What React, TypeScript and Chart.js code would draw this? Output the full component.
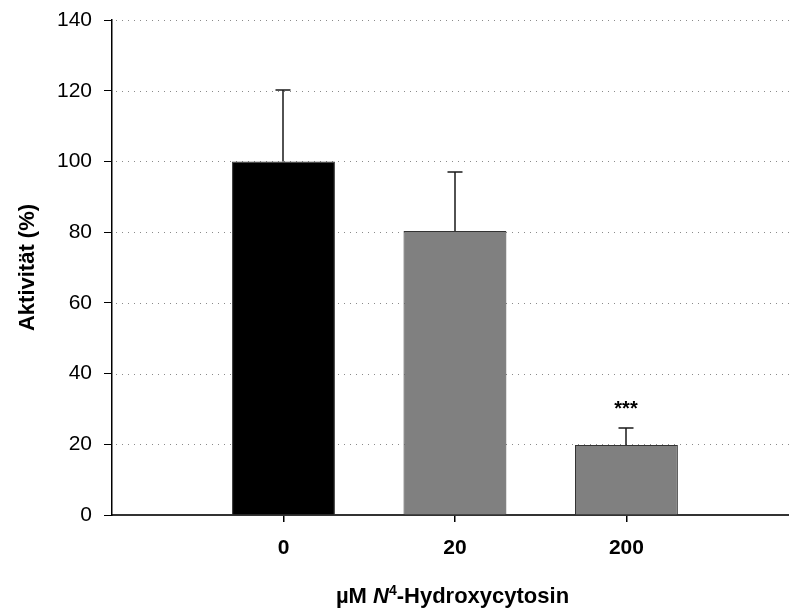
import React, { useEffect, useRef } from 'react';
import { Chart, registerables } from 'chart.js';

Chart.register(...registerables);

const FONT = "'Liberation Sans', Arial, Helvetica, sans-serif";

const categories = ['0', '20', '200'];
const positions = [1, 2, 3];
const values = [100, 80.3, 19.8];
const errors = [20.2, 16.7, 4.8];
const barColors = ['#000000', '#808080', '#808080'];
const significance = ['', '', '***'];
const yMin = 0;
const yMax = 140;
const yStep = 20;
const yTitle = 'Aktivität (%)';
const xTitleParts = ['µM ', 'N', '4', '-Hydroxycytosin'];

export default function App() {
  const ref = useRef<HTMLCanvasElement>(null);

  useEffect(() => {
    document.body.style.margin = '0';
    const canvas = ref.current;
    if (!canvas) return;

    const gridPlugin = {
      id: 'dottedGrid',
      beforeDatasetsDraw(chart: any) {
        const { ctx, chartArea, scales } = chart;
        const y = scales.y;
        ctx.save();
        ctx.strokeStyle = '#8a8a8a';
        ctx.lineWidth = 1;
        ctx.setLineDash([1, 5]);
        for (let v = yMin + yStep; v <= yMax; v += yStep) {
          const py = Math.round(y.getPixelForValue(v)) + 0.5;
          ctx.beginPath();
          ctx.moveTo(chartArea.left + 4, py);
          ctx.lineTo(chartArea.right, py);
          ctx.stroke();
        }
        ctx.restore();
      },
    };

    const errorPlugin = {
      id: 'errorBars',
      afterDatasetsDraw(chart: any) {
        const { ctx, scales } = chart;
        const x = scales.x;
        const y = scales.y;
        ctx.save();
        ctx.strokeStyle = '#1a1a1a';
        ctx.lineWidth = 1.5;
        values.forEach((v, i) => {
          const px = Math.round(x.getPixelForValue(positions[i]));
          const y0 = y.getPixelForValue(v);
          const y1 = y.getPixelForValue(v + errors[i]);
          ctx.beginPath();
          ctx.moveTo(px, y0);
          ctx.lineTo(px, y1);
          ctx.moveTo(px - 7.5, y1);
          ctx.lineTo(px + 7.5, y1);
          ctx.stroke();
          if (significance[i]) {
            ctx.font = `bold 20px ${FONT}`;
            ctx.textAlign = 'center';
            ctx.textBaseline = 'alphabetic';
            ctx.fillStyle = '#000';
            ctx.fillText(significance[i], px, y1 - 13);
          }
        });
        ctx.restore();
      },
    };

    const xTitlePlugin = {
      id: 'xTitle',
      afterDraw(chart: any) {
        const { ctx, chartArea } = chart;
        const fonts = [
          `bold 22px ${FONT}`,
          `italic bold 22px ${FONT}`,
          `bold 14px ${FONT}`,
          `bold 22px ${FONT}`,
        ];
        const raise = [0, 0, 8, 0];
        ctx.save();
        ctx.fillStyle = '#000';
        ctx.textBaseline = 'alphabetic';
        ctx.textAlign = 'left';
        const widths = xTitleParts.map((t, i) => {
          ctx.font = fonts[i];
          return ctx.measureText(t).width;
        });
        const total = widths.reduce((a, b) => a + b, 0);
        let cx = (chartArea.left + chartArea.right) / 2 + 2 - total / 2;
        const base = chartArea.bottom + 88;
        xTitleParts.forEach((t, i) => {
          ctx.font = fonts[i];
          ctx.fillText(t, cx, base - raise[i]);
          cx += widths[i];
        });
        ctx.restore();
      },
    };

    const chart = new Chart(canvas, {
      type: 'bar',
      data: {
        datasets: [
          {
            data: positions.map((p, i) => ({ x: p, y: values[i] })),
            backgroundColor: barColors,
            borderColor: '#333333',
            borderWidth: 1,
            barPercentage: 0.6,
            categoryPercentage: 1,
          },
        ],
      },
      options: {
        responsive: false,
        animation: false,
        layout: { padding: { top: 20, left: 0, right: 0, bottom: 0 } },
        plugins: {
          legend: { display: false },
          tooltip: { enabled: false },
        },
        scales: {
          x: {
            type: 'linear',
            min: 0,
            max: 3.948,
            offset: false,
            grid: { offset: false, drawOnChartArea: false, drawTicks: true, tickLength: 7, color: '#000', lineWidth: 1.5 },
            border: { display: true, color: '#333', width: 2 },
            afterBuildTicks: (scale: any) => {
              scale.ticks = positions.map((v) => ({ value: v }));
            },
            afterFit: (scale: any) => {
              scale.height = 93;
              scale.paddingLeft = 0;
              scale.paddingRight = 0;
            },
            ticks: {
              color: '#000',
              font: { family: FONT, size: 21, weight: 'bold' },
              padding: 14,
              maxRotation: 0,
              autoSkip: false,
              callback: (v: any) => {
                const idx = positions.indexOf(Number(v));
                return idx >= 0 ? categories[idx] : '';
              },
            },
          },
          y: {
            min: yMin,
            max: yMax,
            grid: { drawOnChartArea: false, drawTicks: true, tickLength: 8, color: '#000', lineWidth: 1 },
            border: { display: true, color: '#000', width: 1.5 },
            afterFit: (scale: any) => {
              scale.width = 112;
              scale.paddingTop = 0;
              scale.paddingBottom = 0;
            },
            ticks: {
              stepSize: yStep,
              color: '#000',
              font: { family: FONT, size: 21 },
              padding: 12,
            },
            title: {
              display: true,
              text: yTitle,
              color: '#000',
              font: { family: FONT, size: 22, weight: 'bold' },
              padding: { top: 15, bottom: 0 },
            },
          },
        },
      },
      plugins: [gridPlugin, errorPlugin, xTitlePlugin],
    });

    return () => chart.destroy();
  }, []);

  return (
    <div style={{ width: 789, height: 608 }}>
      <canvas ref={ref} width={789} height={608} style={{ display: 'block' }} />
    </div>
  );
}
